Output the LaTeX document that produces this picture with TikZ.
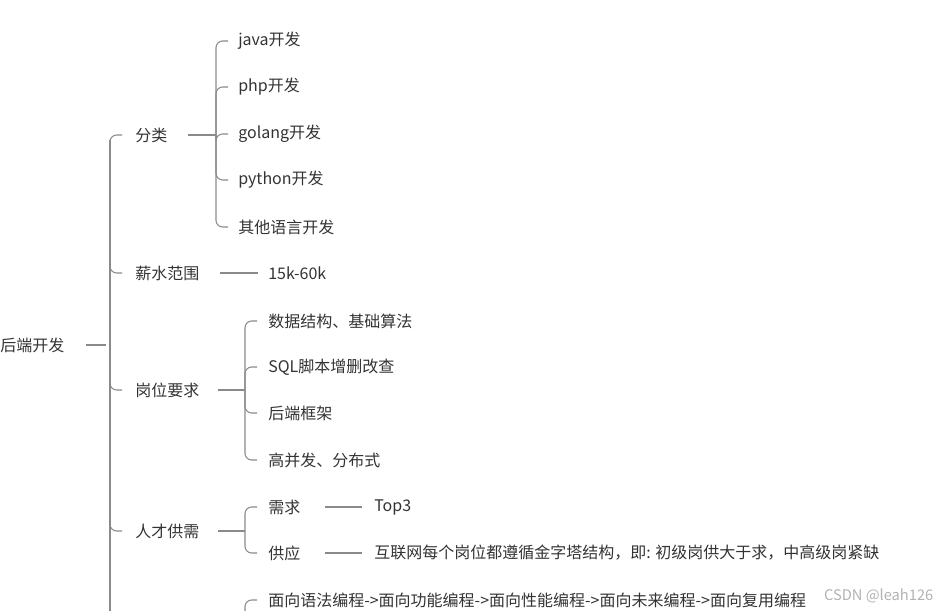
\documentclass[tikz,border=0pt]{standalone}
\usepackage{fontspec}
\setmainfont{Noto Sans CJK SC}
\definecolor{txt}{HTML}{333333}
\definecolor{ln}{HTML}{8A8A8A}
\begin{document}
\begin{tikzpicture}[
  x=0.75pt, y=-0.75pt,
  topic/.style={anchor=west, inner xsep=0pt, inner ysep=2pt, text=txt, font=\fontsize{12}{14}\selectfont},
  link/.style={draw=ln, line width=0.8pt, rounded corners=5pt},
  stub/.style={draw=ln, line width=0.8pt}
  ]
	\useasboundingbox (0,0) rectangle (941,610);

	% root and main trunk
	\node[topic] (root) at (0,345) {后端开发};
	\draw[stub] (86,345) -- (106,345);
	\coordinate (trunk) at (110,345);
	\draw[link] (trunk) |- (122,135);
	\draw[stub] (110,140) -- (110,612);

	\node[topic] (fenlei) at (135,135) {分类};
	\node[topic] (xinshui) at (135,273) {薪水范围};
	\node[topic] (gangwei) at (135,390) {岗位要求};
	\node[topic] (rencai) at (135,531) {人才供需};
	\foreach \n/\y in {xinshui/273, gangwei/390, rencai/531}
		\draw[link] (110,\y-8) |- (122,\y);

	% 分类
	\draw[stub] (188,135) -- (216,135);
	\coordinate (fb) at (216,135);
	\foreach \n/\t/\y in {java/java开发/41, php/php开发/87, golang/golang开发/134, python/python开发/180, other/其他语言开发/227} {
		\node[topic] (\n) at (238,\y) {\t};
		\draw[link] (fb) |- (228,\y);
	}

	% 薪水范围
	\node[topic] (salary) at (268,273) {15k-60k};
	\draw[stub] (220,273) -- (258,273);

	% 岗位要求
	\draw[stub] (218,390) -- (245,390);
	\coordinate (gb) at (245,390);
	\foreach \n/\t/\y in {ds/数据结构、基础算法/321, sql/SQL脚本增删改查/367, fw/后端框架/413, hc/高并发、分布式/460} {
		\node[topic] (\n) at (268,\y) {\t};
		\draw[link] (gb) |- (257,\y);
	}

	% 人才供需
	\draw[stub] (218,531) -- (245,531);
	\coordinate (rb) at (245,531);
	\node[topic] (xuqiu) at (268,507) {需求};
	\node[topic] (gongying) at (268,553) {供应};
	\draw[link] (rb) |- (257,507);
	\draw[link] (rb) |- (257,553);
	\node[topic] (top3) at (374,507) {Top3};
	\node[topic] (pyramid) at (374,553) {互联网每个岗位都遵循金字塔结构，即: 初级岗供大于求，中高级岗紧缺};
	\draw[stub] (325,507) -- (362,507);
	\draw[stub] (325,553) -- (362,553);

	% next branch, cut off
	\node[topic] (path) at (268,600) {面向语法编程->面向功能编程->面向性能编程->面向未来编程->面向复用编程};
	\draw[link] (245,612) |- (257,600);
	\node[anchor=east, text=gray!60, font=\fontsize{11}{13}\selectfont] (mark) at (938,596) {CSDN @leah126};
\end{tikzpicture}
\end{document}
